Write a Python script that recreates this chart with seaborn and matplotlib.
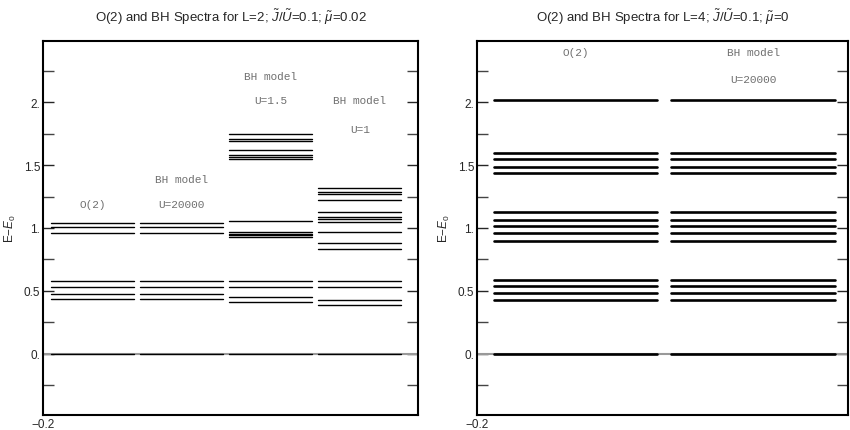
import numpy as np
import pandas as pd
import matplotlib
matplotlib.use("Agg")
import matplotlib.pyplot as plt
import seaborn as sns
from matplotlib.ticker import FixedLocator

sns.set_style("white")
plt.rcParams['font.family'] = ['Liberation Sans', 'DejaVu Sans']
plt.rcParams['mathtext.fontset'] = 'custom'
plt.rcParams['mathtext.rm'] = 'Liberation Sans'
plt.rcParams['mathtext.it'] = 'Liberation Sans:italic'

# spectra, L=2 (left panel)
o2_L2 = [0.0, 0.434, 0.476, 0.534, 0.577, 0.960, 1.005, 1.042]
bh20000_L2 = [0.0, 0.434, 0.476, 0.534, 0.577, 0.960, 1.005, 1.042]
bh15_L2 = [0.0, 0.410, 0.450, 0.534, 0.577, 0.931, 0.942, 0.952, 0.965, 1.053,
           1.550, 1.563, 1.579, 1.622, 1.693, 1.709, 1.746]
bh1_L2 = [0.0, 0.389, 0.431, 0.529, 0.577, 0.836, 0.881, 0.971, 1.050, 1.072,
          1.088, 1.125, 1.225, 1.267, 1.285, 1.315]
labels_L2 = [("O(2)", None), ("BH model", "U=20000"), ("BH model", "U=1.5"), ("BH model", "U=1")]
label_y_L2 = [(1.19, None), (1.39, 1.19), (2.21, 2.02), (2.02, 1.79)]

# spectra, L=4 (right panel)
o2_L4 = [0.0, 0.426, 0.481, 0.540, 0.587, 0.900, 0.960, 1.013, 1.066, 1.129,
         1.437, 1.487, 1.545, 1.595, 2.018]
bh20000_L4 = [0.0, 0.426, 0.481, 0.540, 0.587, 0.900, 0.960, 1.013, 1.066, 1.129,
              1.437, 1.487, 1.545, 1.595, 2.018]
labels_L4 = [("O(2)", None), ("BH model", "U=20000")]
label_y_L4 = [(2.40, None), (2.40, 2.18)]


def levels_frame(columns, width):
    rows = []
    uid = 0
    for k, col in enumerate(columns):
        for e in col:
            rows.append({"x": k, "E": e, "id": uid})
            rows.append({"x": k + width, "E": e, "id": uid})
            uid += 1
    return pd.DataFrame(rows)


def draw_panel(fig, ax, columns, width, xlim, lw, labels, label_y, title):
    ax.axhline(0, color="#999999", lw=1.5, zorder=1)
    df = levels_frame(columns, width)
    sns.lineplot(data=df, x="x", y="E", units="id", estimator=None, sort=False,
                 color="black", lw=lw, ax=ax, zorder=2)
    txt = dict(ha="center", va="center", family="Liberation Mono",
               fontsize=8, color="#707070")
    for k, ((t1, t2), (y1, y2)) in enumerate(zip(labels, label_y)):
        cx = k + width / 2
        ax.text(cx, y1, t1, **txt)
        if t2 is not None:
            ax.text(cx, y2, t2, **txt)
    ax.set_xlim(*xlim)
    ax.set_ylim(-0.485, 2.485)
    ax.yaxis.set_major_locator(FixedLocator([0, 0.5, 1, 1.5, 2]))
    ax.set_yticklabels(["0.", "0.5", "1.", "1.5", "2."])
    ax.yaxis.set_minor_locator(FixedLocator([-0.25, 0.25, 0.75, 1.25, 1.75, 2.25]))
    ax.tick_params(axis="y", which="both", direction="in", left=True, right=True,
                   length=8, width=1, labelsize=8.5, pad=2)
    ax.tick_params(axis="y", which="minor", color="#444444")
    ax.set_xticks([xlim[0]])
    ax.set_xticklabels(["\u22120.2"])
    ax.tick_params(axis="x", length=0, labelsize=8.5, pad=2)
    ax.set_xlabel("")
    ax.set_ylabel("E$-E_0$", fontsize=8.5, labelpad=4)
    for s in ax.spines.values():
        s.set_linewidth(1.5)
        s.set_color("black")
    pos = ax.get_position()
    fig.text((pos.x0 + pos.x1) / 2, 1 - 17 / 431, title, ha="center", va="center",
             fontsize=9.5)


fig = plt.figure(figsize=(8.5, 4.31), dpi=100)
ax1 = fig.add_axes([0.0506, 0.0348, 0.4412, 0.8678])
ax2 = fig.add_axes([0.5612, 0.0348, 0.4360, 0.8678])

draw_panel(fig, ax1, [o2_L2, bh20000_L2, bh15_L2, bh1_L2], 0.933, (-0.09, 4.12), 1.0,
           labels_L2, label_y_L2,
           r"O(2) and BH Spectra for L=2; $\tilde{J}/\tilde{U}$=0.1; $\tilde{\mu}$=0.02")
draw_panel(fig, ax2, [o2_L4, bh20000_L4], 0.921, (-0.096, 1.994), 1.9,
           labels_L4, label_y_L4,
           r"O(2) and BH Spectra for L=4; $\tilde{J}/\tilde{U}$=0.1; $\tilde{\mu}$=0")

fig.savefig("out.png", dpi=100)
